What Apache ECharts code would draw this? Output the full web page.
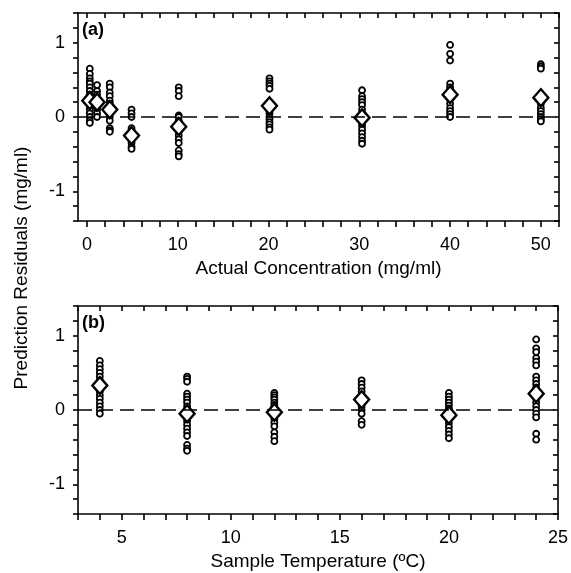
<!DOCTYPE html>
<html>
<head>
<meta charset="utf-8">
<script src="https://cdn.jsdelivr.net/npm/echarts@6/dist/echarts.min.js"></script>
<style>
  html, body { margin: 0; padding: 0; background: #fff; }
  #chart { width: 571px; height: 573px; }
</style>
</head>
<body>
<div id="chart"></div>
<script>
// panel (a): actual concentration (mg/ml)
const concA = [0.3, 1.1, 2.5, 4.9, 10.1, 20.1, 30.3, 40, 50];
const residA = [
  [0.65, 0.58, 0.52, 0.48, 0.45, 0.4, 0.35, 0.3, 0.25, 0.2, 0.15, 0.1, 0.05, 0.0, -0.05, -0.08],
  [0.43, 0.35, 0.3, 0.25, 0.2, 0.15, 0.1, 0.05, 0.0],
  [0.45, 0.4, 0.33, 0.28, 0.22, 0.18, 0.12, 0.05, 0.0, -0.05, -0.15, -0.18, -0.2],
  [0.1, 0.05, 0.0, -0.15, -0.2, -0.25, -0.3, -0.35, -0.4, -0.43],
  [0.4, 0.35, 0.28, 0.02, 0.0, -0.05, -0.1, -0.15, -0.2, -0.25, -0.3, -0.35, -0.45, -0.5, -0.53],
  [0.52, 0.48, 0.45, 0.42, 0.38, 0.05, 0.0, -0.03, -0.07, -0.1, -0.14, -0.17],
  [0.36, 0.28, 0.24, 0.2, 0.16, 0.1, 0.05, -0.08, -0.12, -0.17, -0.22, -0.27, -0.32, -0.36],
  [0.97, 0.85, 0.76, 0.45, 0.4, 0.35, 0.3, 0.25, 0.18, 0.12, 0.08, 0.04, 0.0],
  [0.71, 0.68, 0.65, 0.25, 0.18, 0.12, 0.08, 0.04, 0.0, -0.03, -0.06]
];
const meanA = [0.22, 0.2, 0.1, -0.25, -0.13, 0.15, -0.01, 0.3, 0.26];

// panel (b): sample temperature (ºC)
const tempB = [4, 8, 12, 16, 20, 24];
const residB = [
  [0.66, 0.6, 0.55, 0.5, 0.45, 0.4, 0.35, 0.3, 0.25, 0.2, 0.15, 0.1, 0.05, 0.0, -0.05],
  [0.45, 0.42, 0.38, 0.22, 0.18, 0.14, 0.1, 0.05, 0.0, -0.05, -0.1, -0.15, -0.2, -0.25, -0.3, -0.35, -0.47, -0.52, -0.55],
  [0.23, 0.2, 0.17, 0.14, 0.1, 0.07, 0.04, -0.08, -0.12, -0.17, -0.22, -0.3, -0.36, -0.42],
  [0.4, 0.35, 0.3, 0.25, 0.2, 0.15, 0.1, 0.05, 0.0, -0.05, -0.15, -0.2],
  [0.23, 0.18, 0.14, 0.1, 0.06, 0.02, -0.02, -0.18, -0.23, -0.28, -0.33, -0.38],
  [0.95, 0.83, 0.78, 0.7, 0.65, 0.6, 0.45, 0.4, 0.35, 0.3, 0.25, 0.2, 0.15, 0.1, 0.05, 0.0, -0.05, -0.1, -0.32, -0.4]
];
const meanB = [0.33, -0.05, -0.03, 0.14, -0.07, 0.22];

// ticks and labels
const xTicksA = [0, 2, 4, 6, 8, 10, 12, 14, 16, 18, 20, 22, 24, 26, 28, 30, 32, 34, 36, 38, 40, 42, 44, 46, 48, 50, 52];
const xLabelsA = [0, 10, 20, 30, 40, 50];
const xTicksB = [3, 4, 5, 6, 7, 8, 9, 10, 11, 12, 13, 14, 15, 16, 17, 18, 19, 20, 21, 22, 23, 24, 25];
const xLabelsB = [5, 10, 15, 20, 25];
const yTicks = [-1.4, -1.2, -1, -0.8, -0.6, -0.4, -0.2, 0, 0.2, 0.4, 0.6, 0.8, 1, 1.2, 1.4];
const yLabels = [-1, 0, 1];

const font = 'Liberation Sans, Arial, sans-serif';
const black = { color: '#000', width: 1.6 };

function flatten(xs, groups) {
  const out = [];
  groups.forEach((g, i) => g.forEach(v => out.push([xs[i], v])));
  return out;
}

function xAxes(gi, min, max, ticks, labels, name) {
  return [
    {
      gridIndex: gi, type: 'value', min: min, max: max, position: 'bottom',
      name: name, nameLocation: 'middle', nameGap: 38,
      nameTextStyle: { fontFamily: font, fontSize: 19, color: '#000' },
      axisLine: { onZero: false, lineStyle: black },
      axisTick: { customValues: ticks, length: 6, lineStyle: black },
      axisLabel: { customValues: labels, margin: 15, fontFamily: font, fontSize: 18, color: '#000' },
      splitLine: { show: false }
    },
    {
      gridIndex: gi, type: 'value', min: min, max: max, position: 'top',
      axisLine: { onZero: false, lineStyle: black },
      axisTick: { customValues: ticks, inside: true, length: 5, lineStyle: black },
      axisLabel: { show: false },
      splitLine: { show: false }
    }
  ];
}

function yAxes(gi) {
  return [
    {
      gridIndex: gi, type: 'value', min: -1.4, max: 1.4, position: 'left',
      axisLine: { onZero: false, lineStyle: black },
      axisTick: { customValues: yTicks, length: 5, lineStyle: black },
      axisLabel: { customValues: yLabels, margin: 13, fontFamily: font, fontSize: 18, color: '#000' },
      splitLine: { show: false }
    },
    {
      gridIndex: gi, type: 'value', min: -1.4, max: 1.4, position: 'right',
      axisLine: { onZero: false, lineStyle: black },
      axisTick: { customValues: yTicks, inside: true, length: 5, lineStyle: black },
      axisLabel: { show: false },
      splitLine: { show: false }
    }
  ];
}

function panelSeries(xi, yi, xs, groups, means) {
  return [
    {
      type: 'scatter', xAxisIndex: xi, yAxisIndex: yi,
      data: flatten(xs, groups),
      symbol: 'circle', symbolSize: 6,
      itemStyle: { color: '#fff', borderColor: '#000', borderWidth: 1.8, opacity: 1 },
      emphasis: { disabled: true },
      markLine: {
        silent: true, symbol: 'none', label: { show: false },
        lineStyle: { color: '#000', width: 1.6, type: [14, 7] },
        data: [{ yAxis: 0 }]
      },
      z: 2
    },
    {
      type: 'scatter', xAxisIndex: xi, yAxisIndex: yi,
      data: xs.map((x, i) => [x, means[i]]),
      symbol: 'diamond', symbolSize: [15, 17],
      itemStyle: { color: '#fff', borderColor: '#000', borderWidth: 2.4, opacity: 1 },
      emphasis: { disabled: true },
      z: 3
    }
  ];
}

const chart = echarts.init(document.getElementById('chart'));
chart.setOption({
  backgroundColor: '#fff',
  animation: false,
  grid: [
    { left: 78, top: 13, width: 481, height: 208 },
    { left: 78, top: 306, width: 481, height: 208 }
  ],
  xAxis: [
    ...xAxes(0, -1, 52, xTicksA, xLabelsA, 'Actual Concentration (mg/ml)'),
    ...xAxes(1, 3, 25, xTicksB, xLabelsB, 'Sample Temperature (ºC)')
  ],
  yAxis: [...yAxes(0), ...yAxes(1)],
  series: [
    ...panelSeries(0, 0, concA, residA, meanA),
    ...panelSeries(2, 2, tempB, residB, meanB)
  ],
  graphic: [
    { type: 'text', left: 82, top: 21, style: { text: '(a)', font: 'bold 18px ' + font, fill: '#000' } },
    { type: 'text', left: 82, top: 314, style: { text: '(b)', font: 'bold 18px ' + font, fill: '#000' } },
    {
      type: 'text', x: 22, y: 268, rotation: Math.PI / 2,
      style: { text: 'Prediction Residuals (mg/ml)', font: '19px ' + font, fill: '#000', align: 'center', verticalAlign: 'middle' }
    }
  ]
});
</script>
</body>
</html>
